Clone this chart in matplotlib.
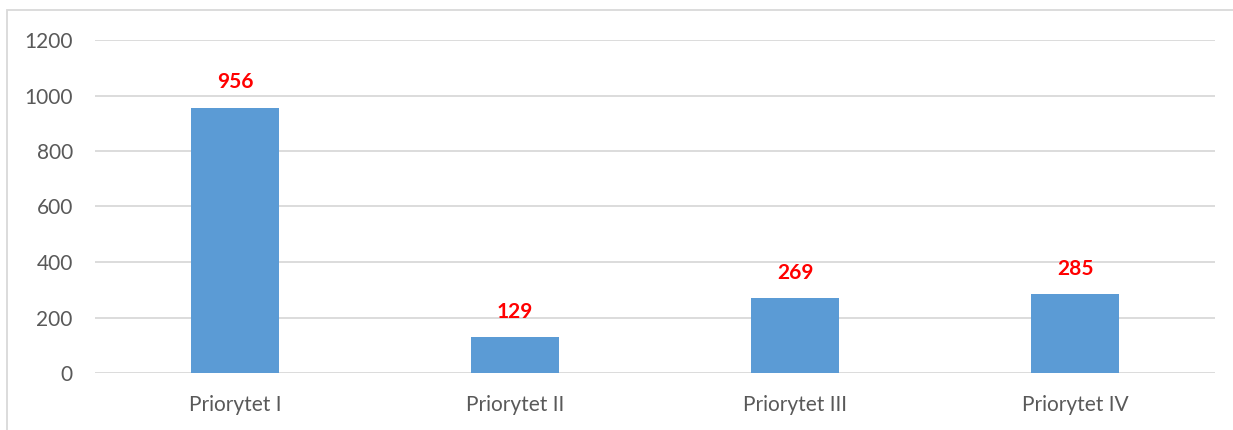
import matplotlib.pyplot as plt
from matplotlib.patches import Rectangle

categories = ['Priorytet I', 'Priorytet II', 'Priorytet III', 'Priorytet IV']
values = [956, 129, 269, 285]
yticks = [0, 200, 400, 600, 800, 1000, 1200]

plt.rcParams['font.family'] = ['Lato', 'DejaVu Sans']

fig = plt.figure(figsize=(12.33, 4.3), dpi=100)
ax = fig.add_axes([95/1233, 57/430, 1120/1233, 333/430])

x = range(len(categories))
ax.bar(x, values, width=0.315, color='#5b9bd5', zorder=3)
for xi, v in zip(x, values):
    ax.annotate(str(v), (xi, v), xytext=(0, 11), textcoords='offset points',
                ha='center', va='bottom', color='#ff0000', fontweight='bold', fontsize=15)

ax.set_xlim(-0.5, len(categories) - 0.5)
ax.set_ylim(0, 1200)
ax.set_yticks(yticks)
ax.set_xticks(list(x))
ax.set_xticklabels(categories)
ax.yaxis.grid(True, color='#d9d9d9', linewidth=1.3, zorder=0)
ax.tick_params(axis='both', length=0, colors='#595959', labelsize=15)
ax.tick_params(axis='x', pad=16)
ax.tick_params(axis='y', pad=16)
for s in ax.spines.values():
    s.set_visible(False)

# chart border (only left and top visible in the crop)
fig.patches.append(Rectangle((7/1233, -0.1), 1.2, 420/430 + 0.1, transform=fig.transFigure,
                             fill=False, edgecolor='#d9d9d9', linewidth=1.3))

fig.savefig('out.png', dpi=100)
